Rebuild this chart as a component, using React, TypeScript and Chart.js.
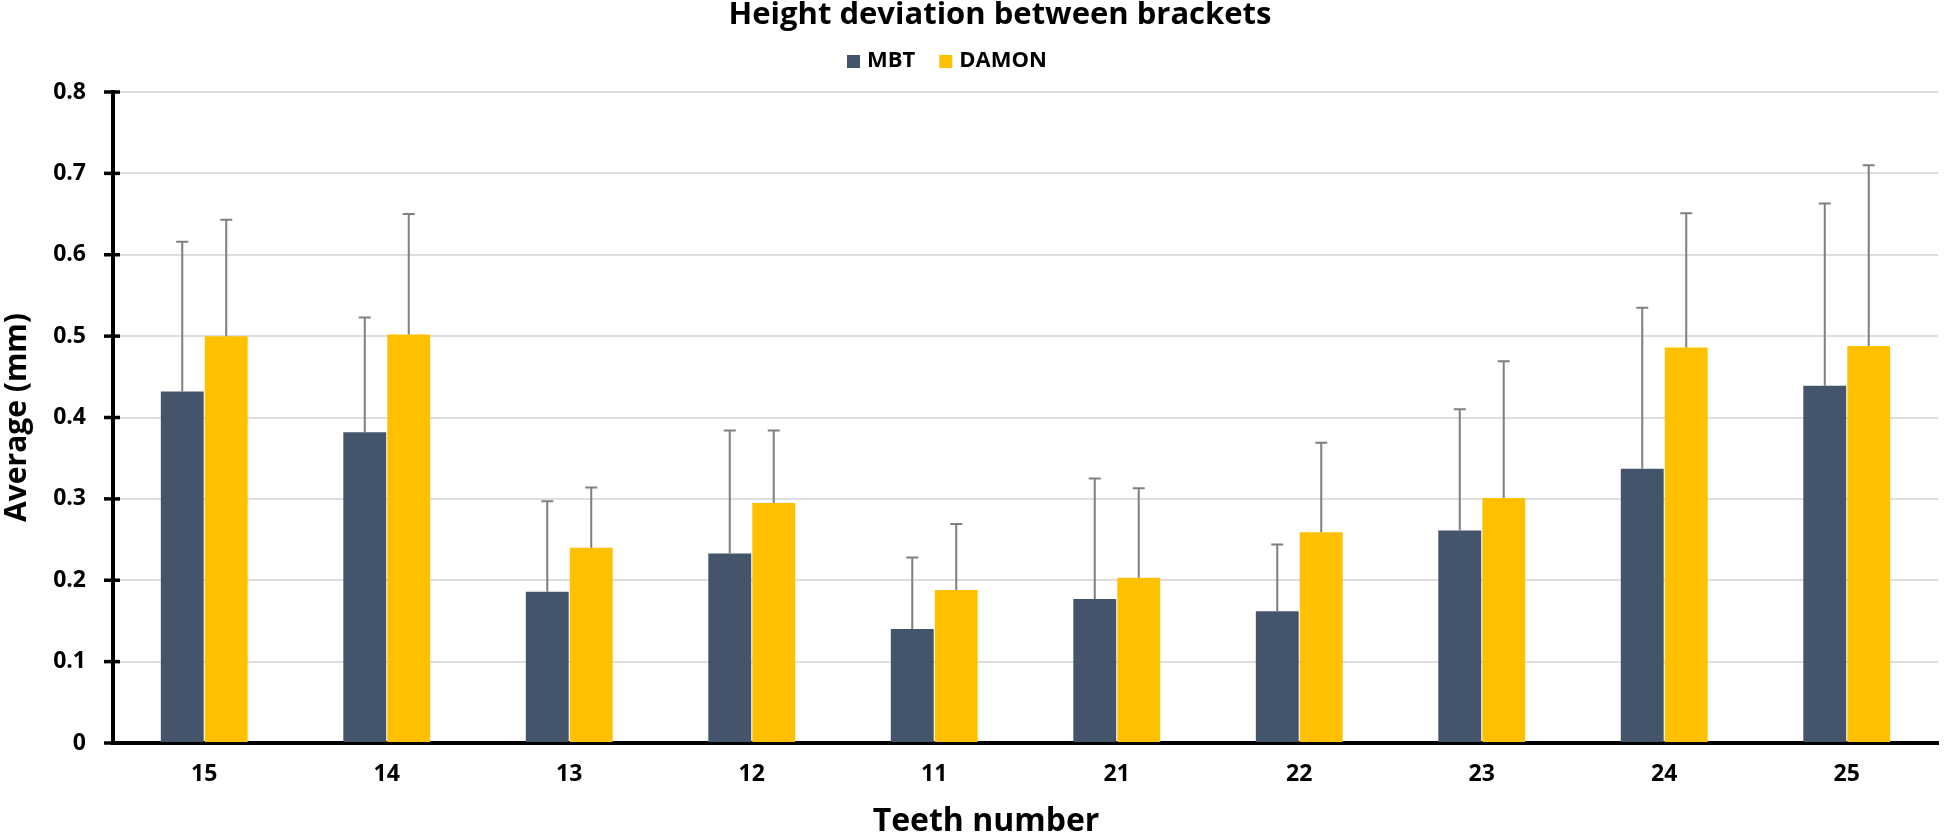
import React, { useEffect, useRef } from 'react';
import { Chart, registerables } from 'chart.js';

Chart.register(...registerables);

// ---- data ----
const categories = ['15', '14', '13', '12', '11', '21', '22', '23', '24', '25'];
const seriesNames = ['MBT', 'DAMON'];
const seriesColors = ['#44546A', '#FFC000'];
const mbtMeans = [0.432, 0.382, 0.186, 0.233, 0.140, 0.177, 0.162, 0.261, 0.337, 0.439];
const mbtSD = [0.184, 0.141, 0.111, 0.151, 0.088, 0.148, 0.082, 0.149, 0.198, 0.224];
const damonMeans = [0.500, 0.502, 0.240, 0.295, 0.188, 0.203, 0.259, 0.301, 0.486, 0.488];
const damonSD = [0.143, 0.148, 0.074, 0.089, 0.081, 0.110, 0.110, 0.168, 0.165, 0.222];
const yMin = 0;
const yMax = 0.8;
const yStep = 0.1;

const titleText = 'Height deviation between brackets';
const xTitleText = 'Teeth number';
const yTitleText = 'Average (mm)';

const FONT = "'Open Sans', 'DejaVu Sans', sans-serif";

const errorBarsPlugin = {
  id: 'errorBars',
  afterDatasetsDraw(chart: any) {
    const ctx = chart.ctx;
    const yScale = chart.scales.y;
    chart.data.datasets.forEach((ds: any, i: number) => {
      const meta = chart.getDatasetMeta(i);
      meta.data.forEach((bar: any, j: number) => {
        const topPx = yScale.getPixelForValue(ds.data[j] + ds.errors[j]);
        ctx.save();
        ctx.strokeStyle = '#7f7f7f';
        ctx.lineWidth = 2;
        ctx.beginPath();
        ctx.moveTo(bar.x, bar.y);
        ctx.lineTo(bar.x, topPx);
        ctx.moveTo(bar.x - 6, topPx);
        ctx.lineTo(bar.x + 6, topPx);
        ctx.stroke();
        ctx.restore();
      });
    });
  },
};

const decorPlugin = {
  id: 'decor',
  afterDraw(chart: any) {
    const ctx = chart.ctx;
    const area = chart.chartArea;
    const yScale = chart.scales.y;

    // cross tick marks on the value axis
    ctx.save();
    ctx.strokeStyle = '#000';
    ctx.lineWidth = 3.5;
    yScale.ticks.forEach((t: any) => {
      const py = yScale.getPixelForValue(t.value);
      ctx.beginPath();
      ctx.moveTo(area.left - 9, py);
      ctx.lineTo(area.left + 7, py);
      ctx.stroke();
    });
    ctx.restore();

    ctx.save();
    ctx.fillStyle = '#000';
    ctx.textBaseline = 'alphabetic';

    // title
    ctx.font = `bold 31px ${FONT}`;
    ctx.textAlign = 'center';
    ctx.fillText(titleText, 1000, 24);

    // legend
    ctx.font = `bold 22px ${FONT}`;
    ctx.textAlign = 'left';
    let lx = 847;
    seriesNames.forEach((name, i) => {
      ctx.fillStyle = seriesColors[i];
      ctx.fillRect(lx, 55, 13, 13);
      ctx.fillStyle = '#000';
      ctx.fillText(name, lx + 20, 67);
      lx += 20 + ctx.measureText(name).width + 24;
    });

    // x axis title
    ctx.font = `bold 32px ${FONT}`;
    ctx.textAlign = 'center';
    ctx.fillText(xTitleText, 986, 831);

    // y axis title
    ctx.font = `bold 30px ${FONT}`;
    ctx.translate(26, (area.top + area.bottom) / 2);
    ctx.rotate(-Math.PI / 2);
    ctx.textAlign = 'center';
    ctx.fillText(yTitleText, 0, 0);
    ctx.restore();
  },
};

export default function App() {
  const canvasRef = useRef<HTMLCanvasElement | null>(null);

  useEffect(() => {
    if (!canvasRef.current) return;
    const chart = new Chart(canvasRef.current, {
      type: 'bar',
      data: {
        labels: categories,
        datasets: [
          {
            label: seriesNames[0],
            data: mbtMeans,
            errors: mbtSD,
            backgroundColor: seriesColors[0],
            categoryPercentage: 0.482,
            barPercentage: 0.975,
          } as any,
          {
            label: seriesNames[1],
            data: damonMeans,
            errors: damonSD,
            backgroundColor: seriesColors[1],
            categoryPercentage: 0.482,
            barPercentage: 0.975,
          } as any,
        ],
      },
      options: {
        responsive: false,
        animation: false,
        layout: { padding: { top: 92, right: 20, left: 0, bottom: 0 } },
        plugins: {
          legend: { display: false },
          title: { display: false },
          tooltip: { enabled: false },
        },
        scales: {
          x: {
            grid: { display: false, drawTicks: false },
            border: { display: true, color: '#000', width: 4 },
            ticks: {
              color: '#000',
              font: { family: FONT, size: 23, weight: 'bold' },
              padding: 18,
              maxRotation: 0,
            },
            afterFit(scale: any) {
              scale.height = 91;
            },
          },
          y: {
            min: yMin,
            max: yMax,
            ticks: {
              stepSize: yStep,
              color: '#000',
              font: { family: FONT, size: 23, weight: 'bold' },
              padding: 27,
            },
            grid: { color: '#dedede', lineWidth: 2, drawTicks: false },
            border: { display: true, color: '#000', width: 4 },
            afterFit(scale: any) {
              scale.width = 113;
            },
          },
        },
      },
      plugins: [errorBarsPlugin, decorPlugin],
    } as any);
    return () => chart.destroy();
  }, []);

  return (
    <canvas
      ref={canvasRef}
      width={1958}
      height={834}
      style={{ position: 'absolute', left: 0, top: 0, display: 'block', background: '#fff' }}
    />
  );
}
